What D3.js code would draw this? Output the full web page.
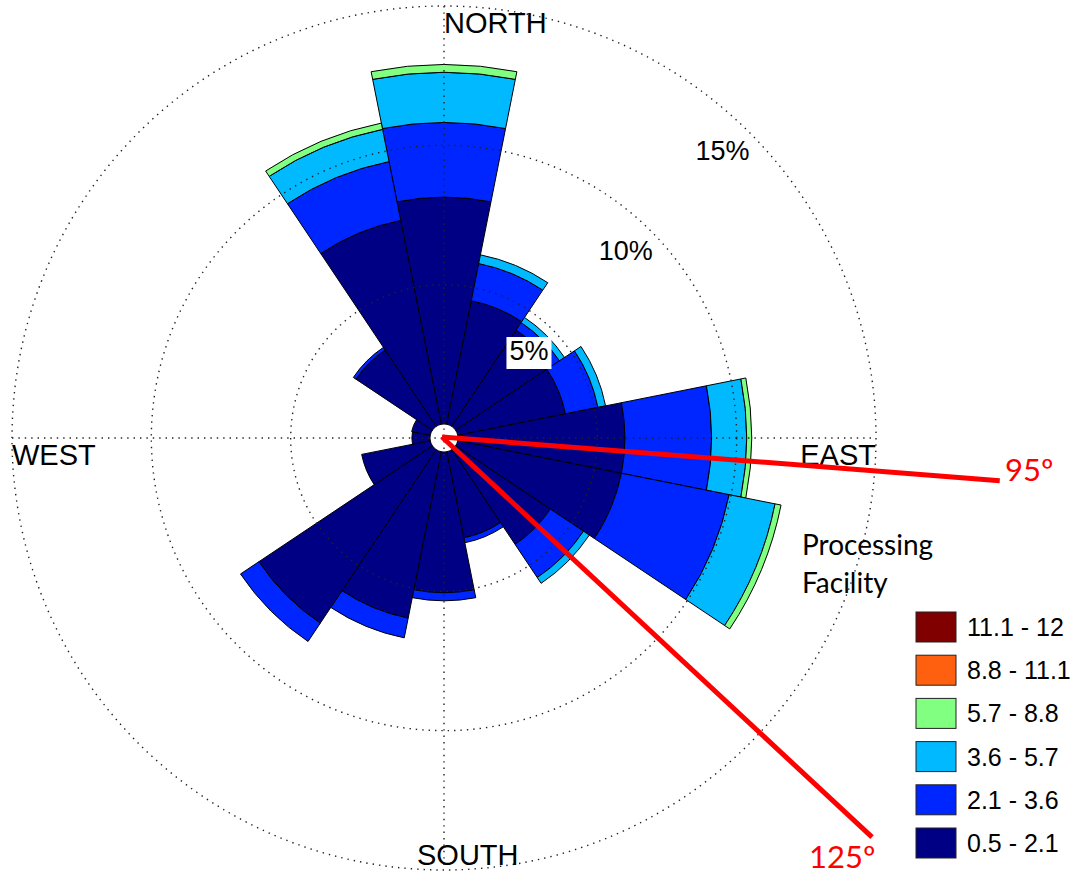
<!DOCTYPE html>
<html>
<head>
<meta charset="utf-8">
<script src="https://cdn.jsdelivr.net/npm/d3@7"></script>
<style>
  html, body { margin: 0; padding: 0; background: #fff; }
  svg { display: block; }
</style>
</head>
<body>
<svg id="chart" width="1089" height="875"></svg>
<script>
// ---------------- DATA ----------------
const directions = ["N","NNE","NE","ENE","E","ESE","SE","SSE","S","SSW","SW","WSW","W","WNW","NW","NNW"];
const directionAngles = [0,22.5,45,67.5,90,112.5,135,157.5,180,202.5,225,247.5,270,292.5,315,337.5];

const speedBins = ["0.5 - 2.1","2.1 - 3.6","3.6 - 5.7","5.7 - 8.8","8.8 - 11.1","11.1 - 12"];
const binColors = ["#000084","#0026ff","#00b9ff","#80ff80","#ff6010","#800000"];

// frequency (%) of each speed bin, per direction (same order as directions)
const freq_0_5_2_1  = [8.14,4.52,4.16,3.94,5.99,5.99,4.09,3.15,5.05,6.09,7.49,2.51,0.65,0.68,3.30,7.46];
const freq_2_1_3_6  = [2.68,1.36,0.32,1.19,3.11,3.94,1.43,0.18,0.29,0.72,0.79,0.00,0.00,0.00,0.11,2.15];
const freq_3_6_5_7  = [1.80,0.32,0.22,0.28,1.26,1.68,0.25,0.00,0.00,0.00,0.00,0.00,0.00,0.00,0.00,1.18];
const freq_5_7_8_8  = [0.28,0.00,0.00,0.00,0.18,0.22,0.00,0.00,0.00,0.00,0.00,0.00,0.00,0.00,0.00,0.23];
const freq_8_8_11_1 = [0,0,0,0,0,0,0,0,0,0,0,0,0,0,0,0];
const freq_11_1_12  = [0,0,0,0,0,0,0,0,0,0,0,0,0,0,0,0];
const binSeries = [freq_0_5_2_1, freq_2_1_3_6, freq_3_6_5_7, freq_5_7_8_8, freq_8_8_11_1, freq_11_1_12];

const gridTicks = [5,10,15];
const gridTickLabels = ["5%","10%","15%"];
const compassLabels = ["NORTH","EAST","SOUTH","WEST"];

// annotations: drawn angle (deg, clockwise from north), length in % units, label
const annotationAngles = [94.4, 133];
const annotationLengths = [19.5, 20.5];
const annotationLabels = ["95º","125º"];
const siteLabel = ["Processing","Facility"];

// ---------------- CHART ----------------
const svg = d3.select("#chart");
const cx = 444, cy = 438;
const r = d3.scaleLinear().domain([0, 15]).range([14, 432]);
const rad = d => d * Math.PI / 180;
const halfWidth = 11.25;

const g = svg.append("g").attr("transform", `translate(${cx},${cy})`);
const arc = d3.arc();

// petals
const petals = g.append("g");
directions.forEach((dname, i) => {
  let cum = 0;
  binSeries.forEach((series, j) => {
    const v = series[i];
    if (v <= 0) return;
    petals.append("path")
      .attr("d", arc({
        innerRadius: r(cum),
        outerRadius: r(cum + v),
        startAngle: rad(directionAngles[i] - halfWidth),
        endAngle: rad(directionAngles[i] + halfWidth)
      }))
      .attr("fill", binColors[j])
      .attr("stroke", "#000")
      .attr("stroke-width", 1)
      .attr("stroke-linejoin", "round");
    cum += v;
  });
});

// center hole
g.append("circle").attr("r", r(0) - 1.5).attr("fill", "#fff");

// grid (dotted), drawn on top
const grid = g.append("g").attr("fill", "none").attr("stroke", "#222")
  .attr("stroke-width", 1.4).attr("stroke-dasharray", "1.4 5");
gridTicks.forEach(t => grid.append("circle").attr("r", r(t)));
grid.append("line").attr("x1", -r(15)).attr("x2", r(15)).attr("y1", 0).attr("y2", 0);
grid.append("line").attr("y1", -r(15)).attr("y2", r(15)).attr("x1", 0).attr("x2", 0);

// tick labels at 44 deg
const labelFont = "'Liberation Sans', Arial, sans-serif";
gridTicks.forEach((t, i) => {
  const rr = r(t) - 31;
  const x = rr * Math.sin(rad(44)), y = -rr * Math.cos(rad(44));
  const lg = g.append("g");
  const txt = lg.append("text")
    .attr("x", x).attr("y", y + 10)
    .attr("text-anchor", "middle")
    .attr("font-family", labelFont).attr("font-size", 27)
    .attr("fill", "#000").text(gridTickLabels[i]);
  const bb = txt.node().getBBox();
  lg.insert("rect", "text")
    .attr("x", bb.x - 3).attr("y", bb.y + 1)
    .attr("width", bb.width + 6).attr("height", bb.height + 2)
    .attr("fill", "#fff");
});

// compass labels
const R = r(15);
const comp = g.append("g").attr("font-family", labelFont).attr("font-size", 29).attr("fill", "#000");
comp.append("text").attr("x", 0).attr("y", -R + 27).text(compassLabels[0]);
comp.append("text").attr("x", R).attr("y", 27).attr("text-anchor", "end").text(compassLabels[1]);
comp.append("text").attr("x", -27).attr("y", R - 5).text(compassLabels[2]);
comp.append("text").attr("x", -R).attr("y", 27).text(compassLabels[3]);

// annotation lines (red)
const annFont = "Lato, 'Open Sans', sans-serif";
annotationAngles.forEach((a, i) => {
  const L = r(annotationLengths[i]);
  const x2 = L * Math.sin(rad(a)), y2 = -L * Math.cos(rad(a));
  g.append("line")
    .attr("x1", -2).attr("y1", -1).attr("x2", x2).attr("y2", y2)
    .attr("stroke", "#ff0000").attr("stroke-width", 5);
});
g.append("text").attr("x", 561).attr("y", 43)
  .attr("font-family", annFont).attr("font-size", 31).attr("fill", "#ff0000").text(annotationLabels[0]);
g.append("text").attr("x", 365).attr("y", 430)
  .attr("font-family", annFont).attr("font-size", 31).attr("fill", "#ff0000").text(annotationLabels[1]);

// site label
const site = g.append("text").attr("font-family", annFont).attr("font-size", 28).attr("fill", "#000");
site.append("tspan").attr("x", 358).attr("y", 117).text(siteLabel[0]);
site.append("tspan").attr("x", 358).attr("y", 155).text(siteLabel[1]);

// legend
const legend = svg.append("g").attr("transform", "translate(916,612)");
const legendOrder = d3.range(speedBins.length).reverse();
legendOrder.forEach((j, k) => {
  const row = legend.append("g").attr("transform", `translate(0,${k * 43.2})`);
  row.append("rect").attr("width", 40).attr("height", 30)
    .attr("fill", binColors[j]).attr("stroke", "#222").attr("stroke-width", 1);
  row.append("text").attr("x", 51).attr("y", 24)
    .attr("font-family", labelFont).attr("font-size", 25).attr("fill", "#000")
    .text(speedBins[j]);
});
</script>
</body>
</html>
